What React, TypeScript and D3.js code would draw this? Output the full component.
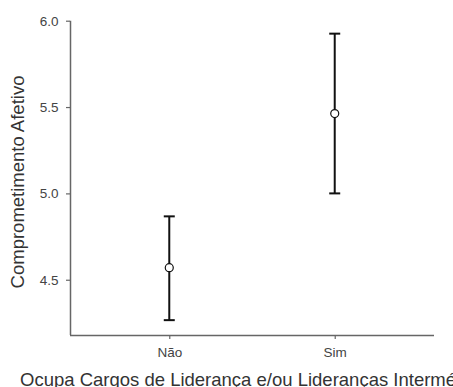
import React, { useRef, useEffect } from 'react';
import * as d3 from 'd3';

const categories = ['Não', 'Sim'];
const means = [4.57, 5.462];
const lower = [4.266, 5.0];
const upper = [4.867, 5.925];
const yTicks = [4.5, 5.0, 5.5, 6.0];

const App = () => {
  const svgRef = useRef<SVGSVGElement>(null);

  useEffect(() => {
    const svg = d3.select(svgRef.current);
    const width = 453;
    const height = 387;
    const margin = { top: 20.7, right: 19, bottom: 52, left: 70 };
    const font = '"Liberation Sans", Arial, Helvetica, sans-serif';

    svg.attr('width', width).attr('height', height);
    svg.selectAll('*').remove();

    const x = d3.scaleLinear()
      .domain([0.4, 2.6])
      .range([margin.left, width - margin.right]);

    const y = d3.scaleLinear()
      .domain([4.18, 6.0])
      .range([height - margin.bottom, margin.top]);

    const axisColor = '#666';

    // y axis
    const yAxis = svg.append('g')
      .attr('transform', `translate(${margin.left},0)`)
      .call(d3.axisLeft(y).tickValues(yTicks).tickFormat(d3.format('.1f')).tickSize(4).tickSizeOuter(0).tickPadding(7.5));
    yAxis.select('.domain').attr('stroke', axisColor).attr('stroke-width', 1.5)
      .attr('d', `M0.5,${y(4.18)}V${y(6.0)}`);
    yAxis.selectAll('.tick line').attr('stroke', axisColor).attr('stroke-width', 1.2);
    yAxis.selectAll('.tick text').attr('fill', '#444').style('font-size', '13.5px').style('font-family', font);

    // x axis
    const xAxis = svg.append('g')
      .attr('transform', `translate(0,${height - margin.bottom})`)
      .call(d3.axisBottom(x).tickValues([1, 2]).tickFormat((d, i) => categories[i]).tickSize(4).tickSizeOuter(0).tickPadding(8.5));
    xAxis.select('.domain').attr('stroke', axisColor).attr('stroke-width', 1.5)
      .attr('d', `M${margin.left},0.5H${width - margin.right}`);
    xAxis.selectAll('.tick line').attr('stroke', axisColor).attr('stroke-width', 1.2);
    xAxis.selectAll('.tick text').attr('fill', '#444').style('font-size', '13.5px').style('font-family', font);

    // axis titles
    svg.append('text')
      .attr('x', -182)
      .attr('y', 24)
      .attr('text-anchor', 'middle')
      .attr('transform', 'rotate(-90)')
      .attr('fill', '#333')
      .style('font-size', '18.5px')
      .style('font-family', font)
      .text('Comprometimento Afetivo');

    svg.append('text')
      .attr('x', 20)
      .attr('y', 386)
      .attr('fill', '#333')
      .style('font-size', '18.5px')
      .style('font-family', font)
      .text('Ocupa Cargos de Liderança e/ou Lideranças Intermédias');

    // error bars
    const capW = 5.5;
    categories.forEach((c, i) => {
      const cx = x(i + 1);
      const g = svg.append('g').attr('stroke', '#111').attr('stroke-width', 2).attr('fill', 'none');
      g.append('line').attr('x1', cx).attr('x2', cx).attr('y1', y(lower[i])).attr('y2', y(upper[i]));
      g.append('line').attr('x1', cx - capW).attr('x2', cx + capW).attr('y1', y(lower[i])).attr('y2', y(lower[i]));
      g.append('line').attr('x1', cx - capW).attr('x2', cx + capW).attr('y1', y(upper[i])).attr('y2', y(upper[i]));
      svg.append('circle')
        .attr('cx', cx)
        .attr('cy', y(means[i]))
        .attr('r', 4)
        .attr('fill', '#fff')
        .attr('stroke', '#111')
        .attr('stroke-width', 1.2);
    });
  }, []);

  return (
    <div style={{ position: 'absolute', left: 0, top: 0, width: 453, height: 387, overflow: 'hidden', background: '#fff' }}>
      <svg ref={svgRef} style={{ display: 'block' }}></svg>
    </div>
  );
};

export default App;
